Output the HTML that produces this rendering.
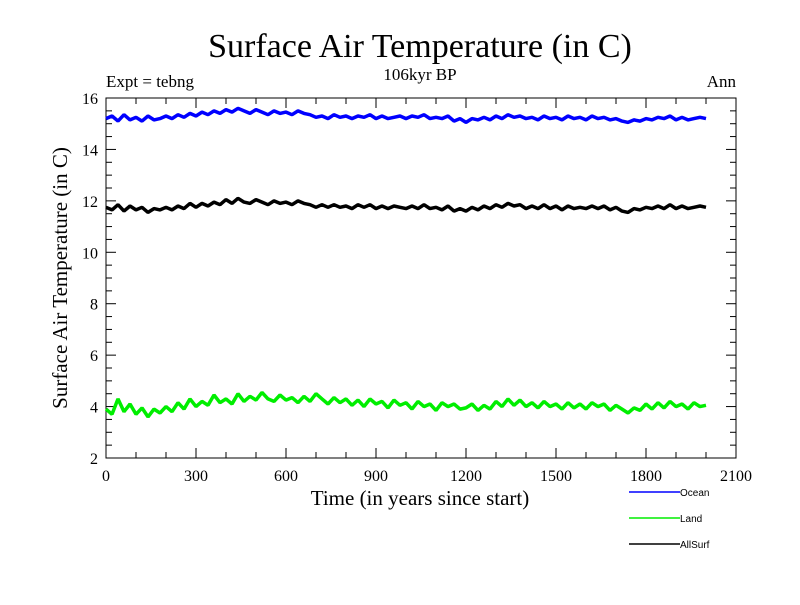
<!DOCTYPE html>
<html><head><meta charset="utf-8"><style>
body{margin:0;background:#fff}
svg text{font-family:"Liberation Serif",serif}
svg text.leg{font-family:"Liberation Sans",sans-serif}
</style></head><body>
<svg id="chart" width="800" height="600" viewBox="0 0 800 600">
<rect width="800" height="600" fill="#fff"/>
<text x="420" y="57" font-size="34" text-anchor="middle">Surface Air Temperature (in C)</text>
<text x="420" y="80" font-size="17" text-anchor="middle">106kyr BP</text>
<text x="106" y="87" font-size="17">Expt = tebng</text>
<text x="736" y="87" font-size="17" text-anchor="end">Ann</text>
<text x="420" y="505" font-size="21" text-anchor="middle">Time (in years since start)</text>
<text x="0" y="0" font-size="21" text-anchor="middle" transform="translate(67,278) rotate(-90)">Surface Air Temperature (in C)</text>
<g id="axes"></g>
<g id="series"></g>
<g id="legend"></g>
</svg>
<script>
const xTicks=[0,300,600,900,1200,1500,1800,2100];
const yTicks=[2,4,6,8,10,12,14,16];
const seriesNames=["Ocean","Land","AllSurf"];
const seriesColors=["#0000ff","#00ee00","#000000"];
const ocean=[15.2,15.3,15.1,15.35,15.15,15.25,15.1,15.3,15.15,15.2,
15.3,15.2,15.35,15.25,15.4,15.3,15.45,15.35,15.5,15.4,
15.55,15.45,15.6,15.5,15.4,15.55,15.45,15.35,15.5,15.4,
15.45,15.35,15.5,15.4,15.35,15.25,15.3,15.2,15.35,15.25,
15.3,15.2,15.3,15.25,15.35,15.2,15.3,15.2,15.25,15.3,
15.2,15.3,15.25,15.35,15.2,15.25,15.2,15.3,15.1,15.2,
15.05,15.2,15.15,15.25,15.15,15.3,15.2,15.35,15.25,15.3,
15.2,15.25,15.15,15.3,15.2,15.25,15.15,15.3,15.2,15.25,
15.15,15.3,15.2,15.25,15.15,15.2,15.1,15.05,15.15,15.1,
15.2,15.15,15.25,15.2,15.3,15.15,15.25,15.15,15.2,15.25,15.2];
const land=[3.9,3.7,4.3,3.8,4.1,3.7,3.95,3.6,3.9,3.75,
4.0,3.8,4.15,3.9,4.3,4.0,4.2,4.05,4.45,4.15,
4.3,4.1,4.5,4.2,4.4,4.25,4.55,4.3,4.2,4.45,
4.25,4.35,4.15,4.4,4.2,4.5,4.3,4.1,4.35,4.15,
4.3,4.05,4.25,4.0,4.3,4.1,4.2,3.95,4.25,4.05,
4.15,3.9,4.2,4.0,4.1,3.85,4.15,4.0,4.1,3.9,
3.95,4.1,3.85,4.05,3.9,4.2,4.0,4.3,4.05,4.25,
4.0,4.15,3.95,4.2,4.0,4.1,3.9,4.15,3.95,4.1,
3.9,4.15,4.0,4.1,3.85,4.05,3.9,3.75,3.95,3.85,
4.1,3.9,4.15,3.95,4.2,4.0,4.1,3.9,4.15,4.0,4.05];
const allSurf=[11.75,11.65,11.85,11.6,11.8,11.65,11.75,11.55,11.7,11.65,
11.75,11.65,11.8,11.7,11.9,11.75,11.9,11.8,11.95,11.85,
12.05,11.9,12.1,11.95,11.9,12.05,11.95,11.85,12.0,11.9,
11.95,11.85,12.0,11.9,11.85,11.75,11.85,11.75,11.85,11.75,
11.8,11.7,11.85,11.75,11.85,11.7,11.8,11.7,11.8,11.75,
11.7,11.8,11.7,11.85,11.7,11.75,11.65,11.8,11.6,11.7,
11.6,11.75,11.65,11.8,11.7,11.85,11.75,11.9,11.8,11.85,
11.7,11.8,11.7,11.85,11.7,11.8,11.65,11.8,11.7,11.75,
11.7,11.8,11.7,11.8,11.65,11.75,11.6,11.55,11.7,11.65,
11.75,11.7,11.8,11.7,11.85,11.7,11.8,11.7,11.75,11.8,11.75];
const seriesData=[ocean,land,allSurf];
const yearStep=20;
const X0=106,X1=736,Y0=98,Y1=458,XMAX=2100,YMIN=2,YMAX=16;
const sx=v=>X0+(X1-X0)*v/XMAX;
const sy=v=>Y1-(Y1-Y0)*(v-YMIN)/(YMAX-YMIN);
const NS="http://www.w3.org/2000/svg";
function mk(tag,attrs,parent){const e=document.createElementNS(NS,tag);for(const k in attrs)e.setAttribute(k,attrs[k]);parent.appendChild(e);return e;}
const axes=document.getElementById('axes');
const frame=mk('rect',{x:X0,y:Y0,width:X1-X0,height:Y1-Y0,fill:'none',stroke:'#000','stroke-width':1},axes);


for(let v=0;v<=XMAX;v+=100){const x=sx(v);const L=(v%300===0)?10:6;
 mk('line',{x1:x,y1:Y1,x2:x,y2:Y1-L,stroke:'#000'},axes);
 mk('line',{x1:x,y1:Y0,x2:x,y2:Y0+L,stroke:'#000'},axes);}
for(let v=YMIN;v<=YMAX;v+=0.5){const y=sy(v);const L=(v%2===0)?10:6;
 mk('line',{x1:X0,y1:y,x2:X0+L,y2:y,stroke:'#000'},axes);
 mk('line',{x1:X1,y1:y,x2:X1-L,y2:y,stroke:'#000'},axes);}
xTicks.forEach(v=>{const t=mk('text',{x:sx(v),y:Y1+23,'font-size':16,'text-anchor':'middle'},axes);t.textContent=v;
 
 });
yTicks.forEach(v=>{const t=mk('text',{x:X0-8,y:sy(v)+6,'font-size':16,'text-anchor':'end'},axes);t.textContent=v;
 
 });
const sg=document.getElementById('series');
seriesData.forEach((arr,i)=>{
 const d=arr.map((v,j)=>(j?'L':'M')+sx(j*yearStep).toFixed(1)+' '+sy(v).toFixed(1)).join(' ');
 const p=mk('path',{d:d,fill:'none',stroke:seriesColors[i],'stroke-width':3.5,'stroke-linejoin':'bevel'},sg);
 
 
});
const lg=document.getElementById('legend');
seriesNames.forEach((n,i)=>{const y=492+i*26;
 const g=mk('g',{},lg);
 
 
 mk('line',{x1:629,y1:y,x2:680,y2:y,stroke:seriesColors[i],'stroke-width':1.5},g);
 const t=mk('text',{x:680,y:y+4,'font-size':10,'class':'leg'},g);t.textContent=n;});
</script>
</body></html>
